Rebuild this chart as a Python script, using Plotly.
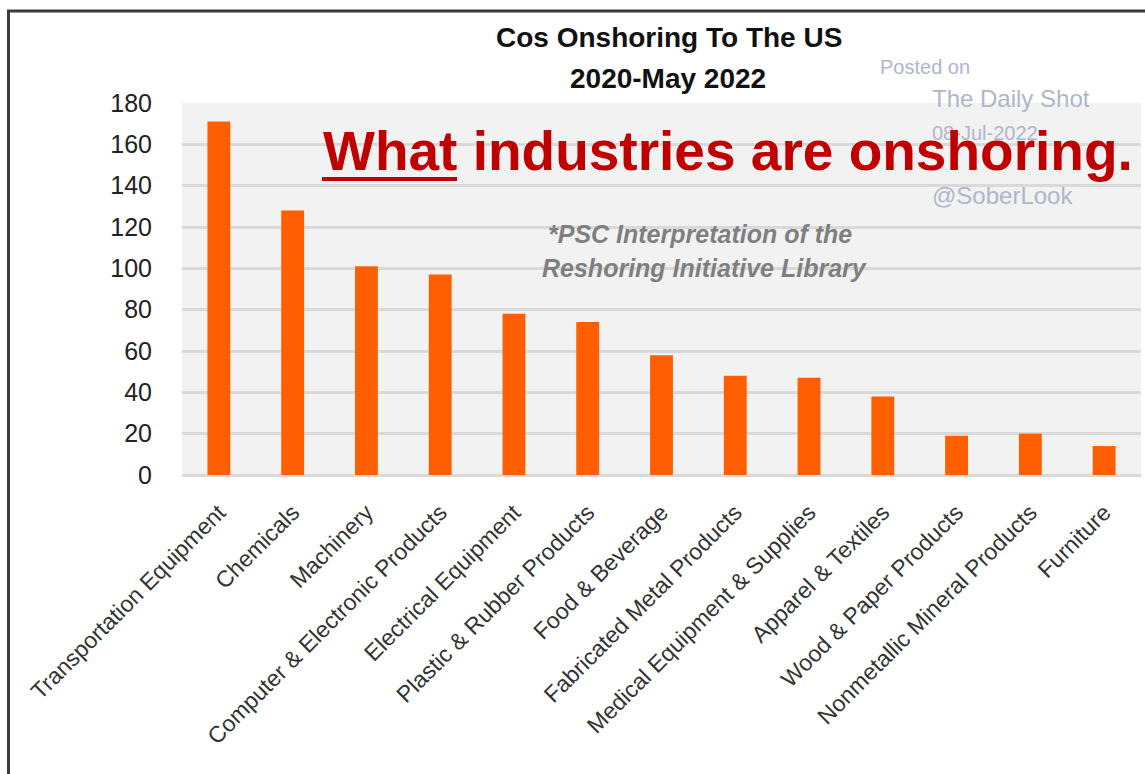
import plotly.graph_objects as go

categories = [
    "Transportation Equipment", "Chemicals", "Machinery",
    "Computer & Electronic Products", "Electrical Equipment",
    "Plastic & Rubber Products", "Food & Beverage",
    "Fabricated Metal Products", "Medical Equipment & Supplies",
    "Apparel & Textiles", "Wood & Paper Products",
    "Nonmetallic Mineral Products", "Furniture",
]
values = [171, 128, 101, 97, 78, 74, 58, 48, 47, 38, 19, 20, 14]
y_ticks = [0, 20, 40, 60, 80, 100, 120, 140, 160, 180]

W, H = 1145, 774
L, R, T, B = 182, 4, 103, 299
PW, PH = W - L - R, H - T - B


def px(x):
    return (x - L) / PW


def py(y):
    return (H - B - y) / PH


FONT = "Liberation Sans, Arial, sans-serif"

fig = go.Figure()
fig.add_trace(go.Bar(
    x=categories, y=values,
    marker=dict(color="#FF5F00", line=dict(width=0)),
    width=0.31,
))

annotations = [
    dict(text="<b>Cos Onshoring To The US</b>", x=px(669), y=py(38)),
    dict(text="<b>2020-May 2022</b>", x=px(668), y=py(78)),
]
for a in annotations:
    a.update(xref="paper", yref="paper", showarrow=False,
             xanchor="center", yanchor="middle",
             font=dict(family=FONT, size=28, color="#111111"))

wm_color = "#AEB6CC"
wm = [
    dict(text="Posted on", x=px(878), y=py(67), size=20),
    dict(text="The Daily Shot", x=px(930), y=py(98), size=24),
    dict(text="08-Jul-2022", x=px(930), y=py(133), size=20),
    dict(text="@SoberLook", x=px(930), y=py(195), size=24),
]
for w in wm:
    annotations.append(dict(
        text=w["text"], x=w["x"], y=w["y"], xref="paper", yref="paper",
        showarrow=False, xanchor="left", yanchor="middle",
        font=dict(family=FONT, size=w["size"], color=wm_color)))

annotations.append(dict(
    text="<b>What industries are onshoring.</b>", x=px(321), y=py(151),
    xref="paper", yref="paper", showarrow=False, xanchor="left", yanchor="middle",
    font=dict(family=FONT, size=55, color="#C00000")))

annotations.append(dict(
    text="<b><i>*PSC Interpretation of the</i></b>", x=px(700), y=py(234),
    xref="paper", yref="paper", showarrow=False, xanchor="center", yanchor="middle",
    font=dict(family=FONT, size=25, color="#7F7F7F")))
annotations.append(dict(
    text="<b><i>Reshoring Initiative Library</i></b>", x=px(704), y=py(268),
    xref="paper", yref="paper", showarrow=False, xanchor="center", yanchor="middle",
    font=dict(family=FONT, size=25, color="#7F7F7F")))

shapes = [
    # underline under "What"
    dict(type="line", xref="paper", yref="paper", x0=px(322), x1=px(457),
         y0=py(179), y1=py(179), line=dict(color="#C00000", width=4)),
    # frame (left and top)
    dict(type="path", xref="paper", yref="paper",
         path=f"M {px(8.5)} {py(780)} L {px(8.5)} {py(11)} L {px(1150)} {py(11)}",
         line=dict(color="#3C3C3C", width=3)),
]

fig.update_layout(
    width=W, height=H,
    margin=dict(l=L, r=R, t=T, b=B, autoexpand=False),
    paper_bgcolor="white", plot_bgcolor="#F2F2F2",
    showlegend=False, bargap=0.69,
    annotations=annotations, shapes=shapes,
    font=dict(family=FONT, color="#333333"),
)
fig.update_xaxes(
    tickangle=-45, tickfont=dict(size=23, color="#333333"),
    ticks="outside", ticklen=14, tickcolor="rgba(0,0,0,0)",
    showgrid=False, showline=False, zeroline=False,
)
fig.update_yaxes(
    range=[0, 180], tickvals=y_ticks,
    tickfont=dict(size=25, color="#222222"),
    ticks="outside", ticklen=24, tickcolor="rgba(0,0,0,0)",
    showgrid=True, gridcolor="#D9D9D9", gridwidth=2.5,
    zeroline=True, zerolinecolor="#D9D9D9", zerolinewidth=2.5,
    showline=False,
)

fig.write_html("out.html")
